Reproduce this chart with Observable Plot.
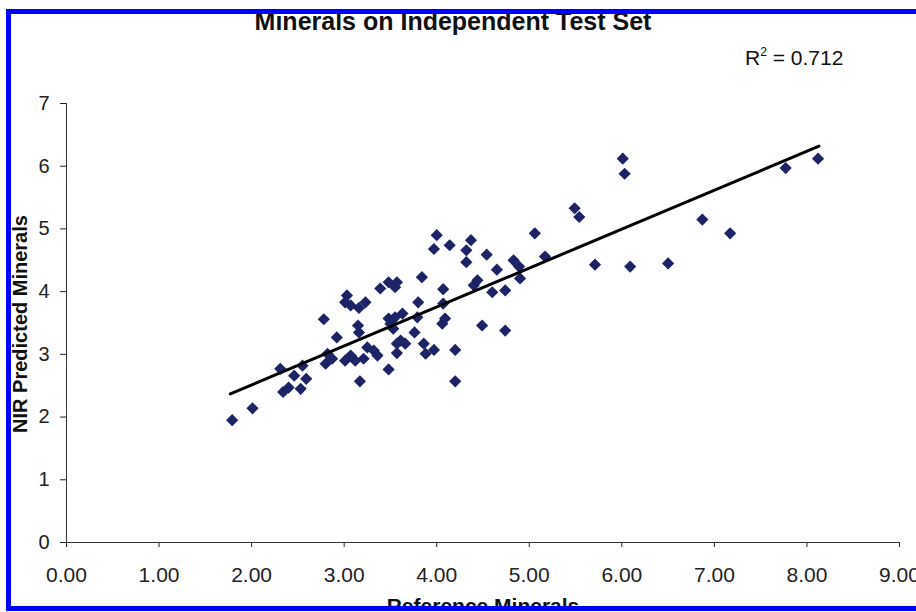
<!DOCTYPE html>
<html>
<head>
<meta charset="utf-8">
<script src="https://cdn.jsdelivr.net/npm/d3@7"></script>
<script src="https://cdn.jsdelivr.net/npm/@observablehq/plot@0.6"></script>
<style>
  body { margin: 0; background: #fff; }
  #wrap { position: relative; width: 916px; height: 612px; overflow: hidden; background: #fff;
          font-family: "Liberation Sans", Arial, sans-serif; }
  #chart { position: absolute; left: 0; top: 0; }
  .t { position: absolute; color: #111; white-space: nowrap; line-height: 1; z-index: 2; }
  .mask { position: absolute; background: #fff; z-index: 5; }
  .bar { position: absolute; background: #0000ff; z-index: 6; }
  #title { left: 453px; top: 9px; font-size: 25px; font-weight: bold; transform: translateX(-50%); }
  #r2 { left: 745px; top: 47px; font-size: 21px; }
  #r2 sup { font-size: 12px; vertical-align: 9px; line-height: 0; }
  #ylab { left: 20px; top: 324px; font-size: 20px; font-weight: bold; transform: translate(-50%, -50%) rotate(-90deg); }
  #xlab { left: 483px; top: 595px; font-size: 21px; font-weight: bold; transform: translateX(-50%); }
</style>
</head>
<body>
<div id="wrap">
  <div id="chart"></div>
  <div class="t" id="title">Minerals on Independent Test Set</div>
  <div class="t" id="r2">R<sup>2</sup> = 0.712</div>
  <div class="t" id="ylab">NIR Predicted Minerals</div>
  <div class="t" id="xlab">Reference Minerals</div>
  <div class="mask" style="left:0;top:0;width:916px;height:9px"></div>
  <div class="mask" style="left:0;top:0;width:6px;height:612px"></div>
  <div class="mask" style="left:0;top:611px;width:916px;height:1px"></div>
  <div class="bar" style="left:6px;top:9px;width:910px;height:5px"></div>
  <div class="bar" style="left:6px;top:9px;width:5px;height:602px"></div>
  <div class="bar" style="left:6px;top:606px;width:910px;height:5px"></div>
</div>
<script>
// Reference (x) vs NIR predicted (y) minerals
const refX = [1.79, 2.01, 2.31, 2.34, 2.40, 2.46, 2.53, 2.55, 2.59, 2.78,
              2.82, 2.80, 2.87, 2.92, 3.01, 3.03, 3.01, 3.07, 3.07, 3.12,
              3.15, 3.16, 3.16, 3.17, 3.21, 3.23, 3.25, 3.32, 3.36, 3.39,
              3.48, 3.57, 3.55, 3.48, 3.48, 3.55, 3.63, 3.50, 3.53, 3.57,
              3.61, 3.66, 3.57, 3.76, 3.79, 3.80, 3.84, 3.86, 3.88, 3.97,
              4.00, 3.97, 4.14, 4.06, 4.09, 4.07, 4.07, 4.20, 4.20, 4.32,
              4.37, 4.32, 4.40, 4.44, 4.49, 4.54, 4.60, 4.65, 4.74, 4.74,
              4.83, 4.89, 4.90, 5.06, 5.17, 5.49, 5.54, 5.71, 6.01, 6.03,
              6.09, 6.50, 6.87, 7.17, 7.77, 8.12];
const predY = [1.95, 2.14, 2.77, 2.40, 2.47, 2.66, 2.45, 2.82, 2.61, 3.56,
               3.01, 2.85, 2.93, 3.27, 2.90, 3.94, 3.83, 2.98, 3.78, 2.90,
               3.46, 3.35, 3.74, 2.57, 2.93, 3.83, 3.11, 3.06, 2.98, 4.05,
               4.15, 4.15, 4.07, 2.76, 3.57, 3.59, 3.65, 3.49, 3.41, 3.17,
               3.22, 3.17, 3.02, 3.35, 3.59, 3.83, 4.23, 3.17, 3.01, 3.07,
               4.90, 4.68, 4.74, 3.49, 3.57, 4.04, 3.81, 3.07, 2.57, 4.66,
               4.82, 4.47, 4.10, 4.18, 3.46, 4.59, 3.99, 4.35, 4.02, 3.38,
               4.50, 4.40, 4.21, 4.93, 4.56, 5.33, 5.19, 4.43, 6.12, 5.88,
               4.40, 4.45, 5.15, 4.93, 5.97, 6.12];

// Trend line end points as drawn in the picture
const trendX = [1.77, 8.13];
const trendY = [2.37, 6.32];

const xTicks = [0, 1, 2, 3, 4, 5, 6, 7, 8, 9];
const yTicks = [0, 1, 2, 3, 4, 5, 6, 7];

const points = refX.map((x, i) => ({x, y: predY[i]}));
const trend = trendX.map((x, i) => ({x, y: trendY[i]}));

const chart = Plot.plot({
  width: 916,
  height: 612,
  marginLeft: 66,
  marginRight: 17,
  marginTop: 103,
  marginBottom: 70,
  style: {fontFamily: '"Liberation Sans", Arial, sans-serif', fontSize: "19px", color: "#222", background: "transparent", overflow: "visible"},
  x: {domain: [0, 9]},
  y: {domain: [0, 7]},
  marks: [
    Plot.axisX({ticks: xTicks, tickFormat: d3.format(".2f"), tickSize: 5, tickPadding: 20, fontSize: 21, label: null}),
    Plot.axisY({ticks: yTicks, tickFormat: d3.format("d"), tickSize: 6, tickPadding: 11, fontSize: 20, label: null}),
    Plot.ruleY([0], {x1: 0, x2: 9, stroke: "#333"}),
    Plot.ruleX([0], {y1: 0, y2: 7, stroke: "#333"}),
    Plot.dot(points, {x: "x", y: "y", symbol: "diamond2", r: 5.5, fill: "#1c2466", stroke: "none"}),
    Plot.line(trend, {x: "x", y: "y", stroke: "#000", strokeWidth: 3})
  ]
});
document.getElementById("chart").appendChild(chart);
</script>
</body>
</html>
